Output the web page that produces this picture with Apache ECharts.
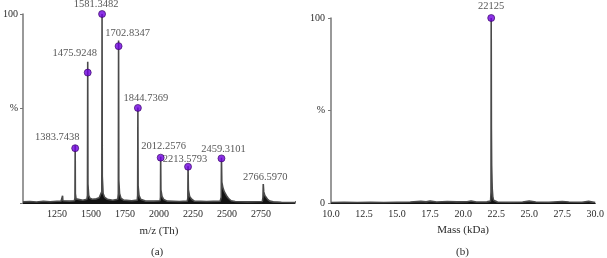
<!DOCTYPE html>
<html>
<head>
<meta charset="utf-8">
<script src="https://cdn.jsdelivr.net/npm/echarts@6/dist/echarts.min.js"></script>
<style>
  html, body { margin: 0; padding: 0; background: #fff; }
  #main { width: 607px; height: 258px; }
</style>
</head>
<body>
<div id="main"></div>
<script>
// (a) m/z spectrum, [m/z, %]
const mzSpectrum = [
  [1000, 0.6], [1050, 0.8], [1100, 0.5], [1150, 0.9], [1200, 0.7], [1250, 0.9], [1280, 1.0],
  [1289, 1.2], [1291, 3.8], [1293, 1.2], [1300, 0.9], [1340, 1.0], [1378, 1.2],
  [1382, 2.5], [1383.7, 30.5], [1385, 5], [1390, 2.2], [1400, 1.5], [1440, 1.5], [1470, 2],
  [1474, 4], [1475.9, 74.8], [1477.5, 10], [1483, 4], [1492, 2.5], [1510, 2], [1540, 2.2], [1560, 2.8], [1574, 3.5],
  [1579.5, 6], [1581.3, 100], [1583, 14], [1589, 5], [1600, 3], [1620, 2], [1660, 1.5], [1697, 2],
  [1701, 5], [1702.8, 86], [1704.5, 12], [1710, 5], [1720, 2.5], [1740, 1.5], [1800, 1.2], [1840, 1.5],
  [1843, 4], [1844.7, 50.5], [1846.5, 9], [1853, 4], [1865, 2], [1900, 1], [1960, 1], [2008, 1.2],
  [2011, 3], [2012.3, 24.5], [2014, 7], [2022, 3.5], [2035, 1.8], [2060, 1], [2150, 0.8], [2208, 1],
  [2212, 2.5], [2213.6, 19.5], [2216, 7], [2225, 3.5], [2240, 2], [2260, 1], [2350, 0.8], [2450, 1],
  [2457.5, 3], [2459.3, 24], [2462, 11], [2470, 8], [2480, 6], [2495, 4], [2510, 2.5], [2530, 1.2], [2560, 0.8], [2650, 0.6], [2760, 0.8],
  [2764.5, 3], [2766.6, 10], [2770, 6], [2778, 4], [2790, 3], [2800, 1.8], [2815, 1], [2840, 0.6], [2900, 0.4], [2950, 0.3], [3000, 0.2]
];
// labelled peaks in (a)
const peakMz = [1383.7438, 1475.9248, 1581.3482, 1702.8347, 1844.7369, 2012.2576, 2213.5793, 2459.3101];
const peakPct = [29, 69, 100, 83, 50.3, 24, 19.2, 23.6];
const extraLabelMz = 2766.5970;
const extraLabelPct = 10;

// (b) deconvoluted mass, [kDa, %]
const massSpectrum = [
  [10, 0.3], [11, 0.4], [12, 0.3], [13, 0.4], [14, 0.3], [15, 0.4], [16, 0.5], [16.8, 0.9], [17.2, 0.6],
  [17.5, 1.0], [18, 0.5], [18.8, 0.8], [19.5, 0.6], [20.3, 0.7], [20.6, 1.1], [21, 0.5], [21.8, 0.6],
  [22.08, 1], [22.11, 6], [22.125, 100], [22.14, 40], [22.16, 20], [22.2, 8], [22.25, 3], [22.3, 1.5],
  [22.4, 0.8], [22.6, 0.5], [23.5, 0.4], [24.5, 0.5], [25, 1.0], [25.5, 0.5], [26.5, 0.4], [27.5, 0.8],
  [28, 0.5], [29, 0.4], [29.5, 0.9], [30, 0.3]
];
const massPeak = 22.125;
const massPeakPct = 100;
const massPeakLabel = '22125';

// label offsets (px) for the peak labels in (a)
const labelOffsets = [[-18, -11], [-13, -19], [-6, -10], [9, -13], [8, -10], [3, -11], [-3, -7], [2, -9]];

const font = 'Liberation Serif';
const txt = '#2a2a2a';

let chart = echarts.init(document.getElementById('main'));

function yFmt(showZero) {
  return function (v) {
    if (v === 100) return '100';
    if (v === 50) return '%';
    if (v === 0 && showZero) return '0';
    return '';
  };
}

const markerStyle = { color: '#6f00e0', borderColor: '#32005e', borderWidth: 0.8 };

let option = {
  animation: false,
  grid: [
    { left: 21, top: 14, width: 274, height: 189 },
    { left: 331, top: 18, width: 267, height: 185 }
  ],
  xAxis: [
    {
      gridIndex: 0, type: 'value', min: 1000, max: 3000, interval: 250,
      name: 'm/z (Th)', nameLocation: 'middle', nameGap: 23,
      nameTextStyle: { fontFamily: font, fontSize: 11, color: txt },
      axisLine: { lineStyle: { color: '#111', width: 1 } },
      axisTick: { show: true, inside: true, length: 2, lineStyle: { color: '#666' } },
      splitLine: { show: false },
      axisLabel: {
        fontFamily: font, fontSize: 10, color: txt, margin: 6,
        formatter: function (v) { return (v === 1000 || v === 3000) ? '' : String(v); }
      }
    },
    {
      gridIndex: 1, type: 'value', min: 10, max: 30, interval: 2.5,
      name: 'Mass (kDa)', nameLocation: 'middle', nameGap: 22,
      nameTextStyle: { fontFamily: font, fontSize: 11, color: txt },
      axisLine: { lineStyle: { color: '#111', width: 1 } },
      axisTick: { show: false },
      splitLine: { show: false },
      axisLabel: {
        fontFamily: font, fontSize: 10, color: txt, margin: 6,
        formatter: function (v) { return v.toFixed(1); }
      }
    }
  ],
  yAxis: [
    {
      gridIndex: 0, type: 'value', min: 0, max: 100, interval: 50,
      axisLine: { show: true, lineStyle: { color: '#777', width: 1.5 } },
      axisTick: { show: true, length: 3, lineStyle: { color: '#777' } },
      splitLine: { show: false },
      axisLabel: { fontFamily: font, fontSize: 10, color: txt, margin: 5, formatter: yFmt(false) }
    },
    {
      gridIndex: 1, type: 'value', min: 0, max: 100, interval: 50,
      axisLine: { show: true, lineStyle: { color: '#777', width: 1.5 } },
      axisTick: { show: true, length: 3, lineStyle: { color: '#777' } },
      splitLine: { show: false },
      axisLabel: { fontFamily: font, fontSize: 10, color: txt, margin: 6, formatter: yFmt(true) }
    }
  ],
  series: [
    {
      type: 'line', xAxisIndex: 0, yAxisIndex: 0, data: mzSpectrum,
      symbol: 'none', lineStyle: { color: '#4a4a4a', width: 1.6 },
      areaStyle: { color: '#111', opacity: 1 }
    },
    {
      type: 'scatter', xAxisIndex: 0, yAxisIndex: 0, symbolSize: 7, z: 5,
      itemStyle: markerStyle,
      label: {
        show: true, position: 'inside', fontFamily: font, fontSize: 10.5, color: txt,
        formatter: function (p) { return p.value[0].toFixed(4); }
      },
      data: peakMz.map(function (m, i) {
        return { value: [m, peakPct[i]], label: { offset: labelOffsets[i] } };
      })
    },
    {
      type: 'scatter', xAxisIndex: 0, yAxisIndex: 0, symbolSize: 1, z: 5,
      itemStyle: { color: 'rgba(0,0,0,0)' },
      label: {
        show: true, position: 'inside', fontFamily: font, fontSize: 10.5, color: txt,
        offset: [2, -7], formatter: function (p) { return p.value[0].toFixed(4); }
      },
      data: [[extraLabelMz, extraLabelPct]]
    },
    {
      type: 'line', xAxisIndex: 1, yAxisIndex: 1, data: massSpectrum,
      symbol: 'none', lineStyle: { color: '#4a4a4a', width: 1.6 },
      areaStyle: { color: '#111', opacity: 1 }
    },
    {
      type: 'scatter', xAxisIndex: 1, yAxisIndex: 1, symbolSize: 7, z: 5,
      itemStyle: markerStyle,
      label: {
        show: true, position: 'inside', fontFamily: font, fontSize: 10.5, color: txt,
        offset: [0, -12], formatter: massPeakLabel
      },
      data: [[massPeak, massPeakPct]]
    }
  ],
  graphic: [
    { type: 'text', left: 151, top: 247, style: { text: '(a)', font: '11px "Liberation Serif"', fill: txt } },
    { type: 'text', left: 456, top: 247, style: { text: '(b)', font: '11px "Liberation Serif"', fill: txt } }
  ]
};

chart.setOption(option);
</script>
</body>
</html>
